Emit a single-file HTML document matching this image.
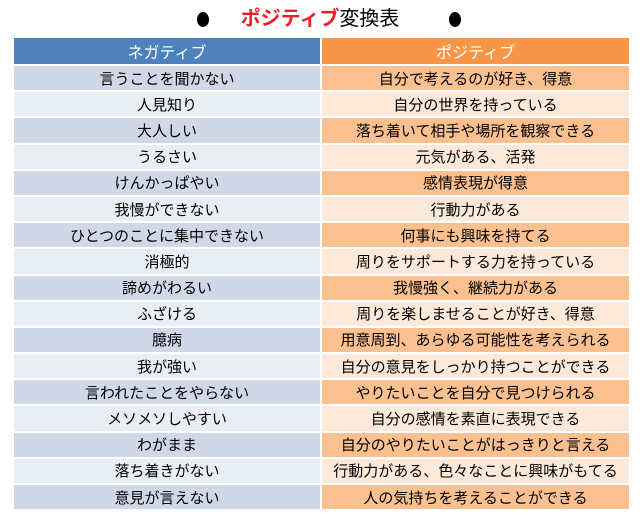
<!DOCTYPE html>
<html><head><meta charset="utf-8"><style>
body{margin:0;width:640px;height:521px;background:#fff;font-family:"Liberation Sans","Noto Sans CJK JP",sans-serif;position:relative;overflow:hidden}
.t{position:absolute;top:5px;left:0;width:640px;text-align:center;font-size:20px;line-height:28px;color:#000}
.b{position:absolute;top:12px;width:12px;height:15px;border-radius:50%;background:#000}
.g{position:absolute;left:14px;top:38px;width:615px;display:grid;grid-template-columns:306px 307px;grid-template-rows:26px repeat(17,24.2px);column-gap:2px;row-gap:2px}
.g div{text-align:center;font-size:15px;color:#000;white-space:nowrap;display:flex;align-items:center;justify-content:center}
.h{color:#fff!important;font-size:16px!important}
.o1{background:#d0d8e8}.o2{background:#fac090}.e1{background:#e9edf4}.e2{background:#fde9d9}
</style></head><body>
<div class="b" style="left:197px"></div><div class="b" style="left:449px"></div>
<div class="t"><b style="color:#e8202a">ポジティブ</b>変換表</div>
<div class="g">
<div class="h" style="background:#4f81bd">ネガティブ</div><div class="h" style="background:#f79646">ポジティブ</div>
<div class="o1">言うことを聞かない</div><div class="o2">自分で考えるのが好き、得意</div>
<div class="e1">人見知り</div><div class="e2">自分の世界を持っている</div>
<div class="o1">大人しい</div><div class="o2">落ち着いて相手や場所を観察できる</div>
<div class="e1">うるさい</div><div class="e2">元気がある、活発</div>
<div class="o1">けんかっぱやい</div><div class="o2">感情表現が得意</div>
<div class="e1">我慢ができない</div><div class="e2">行動力がある</div>
<div class="o1">ひとつのことに集中できない</div><div class="o2">何事にも興味を持てる</div>
<div class="e1">消極的</div><div class="e2">周りをサポートする力を持っている</div>
<div class="o1">諦めがわるい</div><div class="o2">我慢強く、継続力がある</div>
<div class="e1">ふざける</div><div class="e2">周りを楽しませることが好き、得意</div>
<div class="o1">臆病</div><div class="o2">用意周到、あらゆる可能性を考えられる</div>
<div class="e1">我が強い</div><div class="e2">自分の意見をしっかり持つことができる</div>
<div class="o1">言われたことをやらない</div><div class="o2">やりたいことを自分で見つけられる</div>
<div class="e1">メソメソしやすい</div><div class="e2">自分の感情を素直に表現できる</div>
<div class="o1">わがまま</div><div class="o2">自分のやりたいことがはっきりと言える</div>
<div class="e1">落ち着きがない</div><div class="e2">行動力がある、色々なことに興味がもてる</div>
<div class="o1">意見が言えない</div><div class="o2">人の気持ちを考えることができる</div>
</div>
</body></html>
